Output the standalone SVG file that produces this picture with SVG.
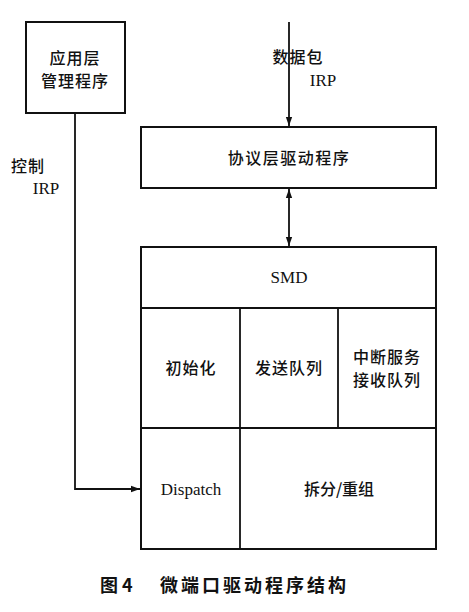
<svg xmlns="http://www.w3.org/2000/svg" width="469" height="612" viewBox="0 0 469 612">
<defs>
<marker id="ah" viewBox="0 0 10 10" refX="10" refY="5" markerWidth="9" markerHeight="9" markerUnits="userSpaceOnUse" orient="auto-start-reverse">
<path d="M0,1.5 L10,5 L0,8.5 z" fill="#111"/>
</marker>
<style>
.box{fill:#fff;stroke:#111;stroke-width:2}
.ln{fill:none;stroke:#111;stroke-width:1.8}
.cn{font-family:"Noto Sans CJK SC","Noto Sans CJK TC",sans-serif;font-size:16px;fill:#111;font-weight:500;text-anchor:middle}
.en{font-family:"Liberation Serif",serif;font-size:17px;fill:#111;text-anchor:middle}
.cap{font-family:"Noto Sans CJK SC",sans-serif;font-size:18px;font-weight:bold;fill:#111}
</style>
</defs>
<rect width="469" height="612" fill="#fff"/>
<g id="connectors">
<path class="ln" d="M289,22 V126" marker-end="url(#ah)"/>
<path class="ln" d="M289,189 V246" marker-start="url(#ah)" marker-end="url(#ah)"/>
<path class="ln" d="M75,113 V489 H140" marker-end="url(#ah)"/>
</g>
<g id="app">
<rect class="box" x="26" y="22" width="99" height="91"/>
<text class="cn" x="75" y="64" letter-spacing="1">应用层</text>
<text class="cn" x="75" y="87" letter-spacing="1">管理程序</text>
</g>
<g id="packet-label">
<text class="cn" x="298" y="63" text-anchor="start" letter-spacing="1">数据包</text>
<text class="en" x="323" y="86">IRP</text>
</g>
<g id="control-label">
<text class="cn" x="28" y="172" text-anchor="start" letter-spacing="1">控制</text>
<text class="en" x="46" y="194">IRP</text>
</g>
<g id="protocol">
<rect class="box" x="141" y="127" width="295" height="61"/>
<text class="cn" x="289" y="164" letter-spacing="1.5">协议层驱动程序</text>
</g>
<g id="miniport">
<rect class="box" x="141" y="247" width="295" height="302"/>
<line class="ln" x1="141" y1="308" x2="436" y2="308"/>
<line class="ln" x1="141" y1="428" x2="436" y2="428"/>
<line class="ln" x1="240" y1="308" x2="240" y2="549"/>
<line class="ln" x1="338" y1="308" x2="338" y2="428"/>
</g>
<g id="smd"><text class="en" x="289" y="283">SMD</text></g>
<g id="init"><text class="cn" x="191" y="374" letter-spacing="1">初始化</text></g>
<g id="sendq"><text class="cn" x="289" y="374" letter-spacing="1">发送队列</text></g>
<g id="isr">
<text class="cn" x="387" y="363" letter-spacing="1">中断服务</text>
<text class="cn" x="387" y="386" letter-spacing="1">接收队列</text>
</g>
<g id="dispatch"><text class="en" x="191" y="495">Dispatch</text></g>
<g id="split"><text class="cn" x="339" y="495">拆分/重组</text></g>
<g id="caption">
<text class="cap" x="100" y="592">图 4</text>
<text class="cap" x="160" y="592" letter-spacing="3">微端口驱动程序结构</text>
</g>
</svg>
